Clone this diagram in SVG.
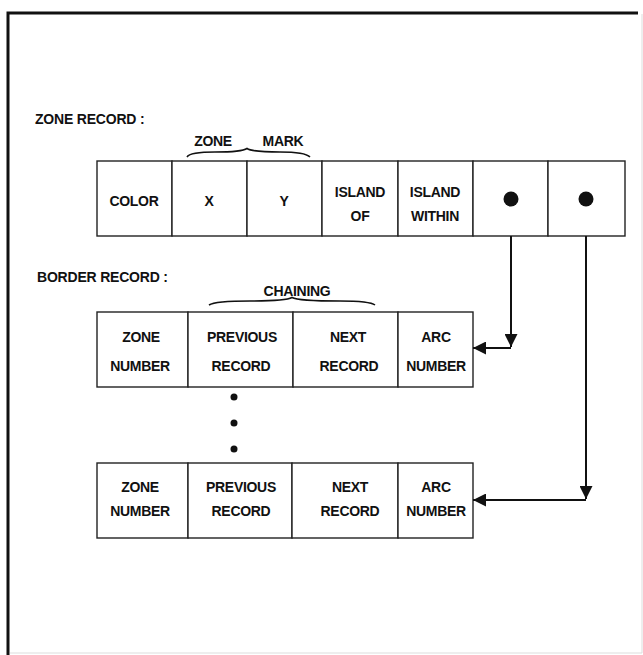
<svg xmlns="http://www.w3.org/2000/svg" width="643" height="655" viewBox="0 0 643 655">
<defs>
<style>
.frame{fill:none;stroke:#111;stroke-width:3}
.faint{fill:none;stroke:#ddd;stroke-width:1}
.cell{fill:#fff;stroke:#222;stroke-width:1.4}
.t{font-family:"Liberation Sans",Arial,sans-serif;font-weight:bold;font-size:14px;letter-spacing:-0.3px;fill:#111;text-anchor:middle}
.lbl{font-family:"Liberation Sans",Arial,sans-serif;font-weight:bold;font-size:14px;letter-spacing:-0.2px;fill:#111}
.brace{fill:none;stroke:#111;stroke-width:1.6}
.conn{fill:none;stroke:#111;stroke-width:2}
</style>
<marker id="arr" markerUnits="userSpaceOnUse" markerWidth="14" markerHeight="13" refX="13" refY="6.5" orient="auto">
<path d="M0,0 L13,6.5 L0,13 z" fill="#111"/>
</marker>
</defs>
<rect width="643" height="655" fill="#fff"/>
<g id="frame">
<path class="frame" d="M8,655 L8,13 L638,13"/>
<path class="faint" d="M642,14 L642,653 M10,653 L642,653"/>
</g>
<g id="labels">
<text class="lbl" x="35" y="124">ZONE RECORD :</text>
<text class="lbl" x="37" y="282">BORDER RECORD :</text>
<text class="t" x="213" y="146">ZONE</text>
<text class="t" x="283" y="146">MARK</text>
<path class="brace" d="M187,157 Q190,152 215,152 Q242,152 247,148.5 Q252,152 280,152 Q305,152 310,157"/>
<text class="t" x="297" y="296">CHAINING</text>
<path class="brace" d="M209,305 Q215,301 250,301 Q286,301 292,297.5 Q298,301 340,301 Q370,301 375,305"/>
</g>
<g id="zone-record">
<rect class="cell" x="97" y="161" width="75" height="75"/>
<rect class="cell" x="172" y="161" width="75" height="75"/>
<rect class="cell" x="247" y="161" width="75" height="75"/>
<rect class="cell" x="322" y="161" width="76" height="75"/>
<rect class="cell" x="398" y="161" width="75" height="75"/>
<rect class="cell" x="473" y="161" width="75" height="75"/>
<rect class="cell" x="548" y="161" width="77" height="75"/>
<text class="t" x="134" y="206">COLOR</text>
<text class="t" x="209" y="206">X</text>
<text class="t" x="284" y="206">Y</text>
<text class="t" x="360" y="197">ISLAND</text>
<text class="t" x="360" y="221">OF</text>
<text class="t" x="435" y="197">ISLAND</text>
<text class="t" x="435" y="221">WITHIN</text>
<circle cx="511" cy="199" r="7.5" fill="#111"/>
<circle cx="586" cy="199" r="7.5" fill="#111"/>
</g>
<g id="border-record-1">
<rect class="cell" x="97" y="312" width="91" height="75"/>
<rect class="cell" x="188" y="312" width="105" height="75"/>
<rect class="cell" x="293" y="312" width="105" height="75"/>
<rect class="cell" x="398" y="312" width="75" height="75"/>
<text class="t" x="141" y="342">ZONE</text>
<text class="t" x="140" y="371">NUMBER</text>
<text class="t" x="242" y="342">PREVIOUS</text>
<text class="t" x="241" y="371">RECORD</text>
<text class="t" x="348" y="342">NEXT</text>
<text class="t" x="349" y="371">RECORD</text>
<text class="t" x="436" y="342">ARC</text>
<text class="t" x="436" y="371">NUMBER</text>
</g>
<g id="ellipsis">
<circle cx="234" cy="397" r="3.5" fill="#111"/>
<circle cx="234" cy="423" r="3.5" fill="#111"/>
<circle cx="234" cy="449" r="3.5" fill="#111"/>
</g>
<g id="border-record-2">
<rect class="cell" x="97" y="463" width="91" height="75"/>
<rect class="cell" x="188" y="463" width="104" height="75"/>
<rect class="cell" x="292" y="463" width="106" height="75"/>
<rect class="cell" x="398" y="463" width="75" height="75"/>
<text class="t" x="140" y="492">ZONE</text>
<text class="t" x="140" y="516">NUMBER</text>
<text class="t" x="241" y="492">PREVIOUS</text>
<text class="t" x="241" y="516">RECORD</text>
<text class="t" x="350" y="492">NEXT</text>
<text class="t" x="350" y="516">RECORD</text>
<text class="t" x="436" y="492">ARC</text>
<text class="t" x="436" y="516">NUMBER</text>
</g>
<g id="connectors">
<path class="conn" d="M511,236 L511,347" marker-end="url(#arr)"/>
<path class="conn" d="M511,348 L473,348" marker-end="url(#arr)"/>
<path class="conn" d="M586,236 L586,499" marker-end="url(#arr)"/>
<path class="conn" d="M586,500 L473,500" marker-end="url(#arr)"/>
</g>
</svg>
